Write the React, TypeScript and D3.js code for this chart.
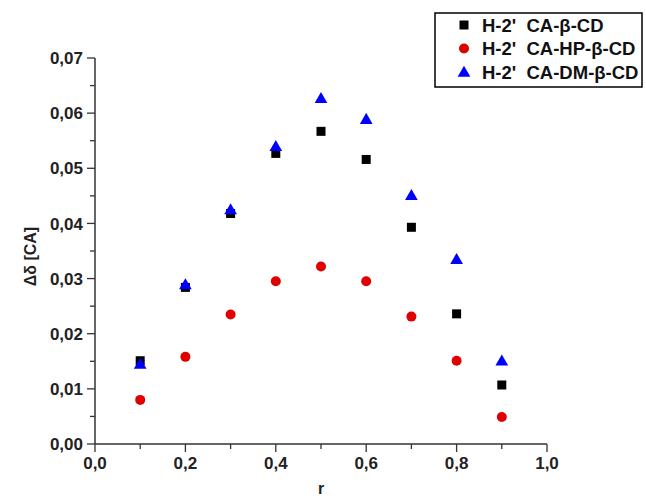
import React from "react";
import * as d3 from "d3";

const rValues = [0.1, 0.2, 0.3, 0.4, 0.5, 0.6, 0.7, 0.8, 0.9];
const betaCD = [0.0151, 0.0284, 0.0418, 0.0527, 0.0567, 0.0516, 0.0393, 0.0236, 0.0107];
const hpBetaCD = [0.008, 0.0158, 0.0235, 0.0295, 0.0322, 0.0295, 0.0231, 0.0151, 0.0049];
const dmBetaCD = [0.0145, 0.0289, 0.0425, 0.054, 0.0627, 0.0589, 0.0451, 0.0335, 0.0151];
const seriesNames = ["H-2'  CA-\u03b2-CD", "H-2'  CA-HP-\u03b2-CD", "H-2'  CA-DM-\u03b2-CD"];
const xTicks = [0, 0.2, 0.4, 0.6, 0.8, 1.0];
const yTicks = [0, 0.01, 0.02, 0.03, 0.04, 0.05, 0.06, 0.07];

const W = 646;
const H = 499;
const margin = { left: 95, right: 99, top: 58, bottom: 55 };

const fmt = (d: number, p: number) => d.toFixed(p).replace(".", ",");

const font = "Arial, 'Liberation Sans', sans-serif";

function Marker({ kind, x, y }: { kind: number; x: number; y: number }) {
  if (kind === 0) return <rect x={x - 4.5} y={y - 4.5} width={9} height={9} fill="#000" />;
  if (kind === 1) return <circle cx={x} cy={y} r={5} fill="#e00000" />;
  const sym = d3.symbol().type(d3.symbolTriangle).size(70)();
  return <path d={sym || ""} transform={`translate(${x},${y + 1})`} fill="#0000ff" />;
}

export default function App() {
  const x = d3.scaleLinear().domain([0, 1]).range([margin.left, W - margin.right]);
  const y = d3.scaleLinear().domain([0, 0.07]).range([H - margin.bottom, margin.top]);
  const xMinor = d3.range(0, 1.0001, 0.1);
  const yMinor = d3.range(0, 0.07001, 0.005);
  const series = [betaCD, hpBetaCD, dmBetaCD];
  const axisColor = "#333";

  return (
    <svg
      width={W}
      height={H}
      style={{ position: "absolute", left: 0, top: 0, background: "#fff" }}
      fontFamily={font}
    >
      {/* axes */}
      <line x1={x(0)} x2={x(0)} y1={y(0)} y2={y(0.07)} stroke={axisColor} strokeWidth={1.5} />
      <line x1={x(0)} x2={x(1)} y1={y(0)} y2={y(0)} stroke={axisColor} strokeWidth={1.5} />
      {yMinor.map((t, i) => (
        <line key={"ym" + i} x1={x(0) - (i % 2 === 0 ? 8 : 5)} x2={x(0)} y1={y(t)} y2={y(t)} stroke={axisColor} strokeWidth={1.3} />
      ))}
      {xMinor.map((t, i) => (
        <line key={"xm" + i} x1={x(t)} x2={x(t)} y1={y(0)} y2={y(0) + (i % 2 === 0 ? 8 : 5)} stroke={axisColor} strokeWidth={1.3} />
      ))}
      {yTicks.map((t) => (
        <text key={"yt" + t} x={x(0) - 12} y={y(t)} dy="0.36em" textAnchor="end" fontSize={17} fontWeight="bold" fill="#222">
          {fmt(t, 2)}
        </text>
      ))}
      {xTicks.map((t) => (
        <text key={"xt" + t} x={x(t)} y={y(0) + 25} textAnchor="middle" fontSize={17} fontWeight="bold" fill="#222">
          {fmt(t, 1)}
        </text>
      ))}
      <text x={x(0.5)} y={H - 5} textAnchor="middle" fontSize={16} fontWeight="bold" fill="#222">
        r
      </text>
      <text
        transform={`translate(36,${y(0.034)}) rotate(-90)`}
        textAnchor="middle"
        fontSize={16}
        fontWeight="bold"
        fill="#222"
      >
        {"\u0394\u03b4 [CA]"}
      </text>

      {/* data */}
      {series.map((s, k) =>
        s.map((v, i) => <Marker key={k + "-" + i} kind={k} x={x(rValues[i])} y={y(v)} />)
      )}

      {/* legend */}
      <rect x={435} y={13} width={207} height={74} fill="#fff" stroke="#000" strokeWidth={1.5} />
      {seriesNames.map((n, k) => (
        <g key={n}>
          <Marker kind={k} x={464} y={25 + k * 23.5} />
          <text x={482} y={25 + k * 23.5} dy="0.36em" fontSize={18.5} fontWeight="bold" fill="#111" style={{ whiteSpace: "pre" }}>
            {n}
          </text>
        </g>
      ))}
    </svg>
  );
}
